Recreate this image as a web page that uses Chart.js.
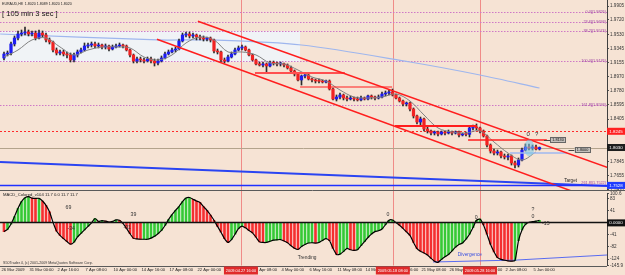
<!DOCTYPE html>
<html><head><meta charset="utf-8">
<script src="https://cdn.jsdelivr.net/npm/chart.js@4.4.1/dist/chart.umd.min.js"></script>
<style>
html,body{margin:0;padding:0;background:#f6e3d4;width:625px;height:275px;overflow:hidden}
#top{position:absolute;left:0;top:0;width:625px;height:190px}
#bot{position:absolute;left:0;top:190px;width:625px;height:85px}
</style></head><body>
<canvas id="top" width="625" height="190"></canvas>
<canvas id="bot" width="625" height="85"></canvas>
<script>
// ---------------- DATA ----------------
const symbolTitle = "EURAUD,H8  1.8020 1.8089 1.8020 1.8020";
const countdownText = "[ 105 min 3 sec ]";
const macdTitle = "MACD_Colored_v104 11.7 0.0 11.7 11.7";
const copyrightText = "S50Trader 4, (c) 2001-2009 MetaQuotes Software Corp.";

const tickBars = [0,8,16,24,32,40,48,56,64,72,80,88,96,104,112,120,128,136,144,152];
const dateTicks = ["26 Mar 2009","31 Mar 00:00","2 Apr 16:00","7 Apr 08:00","10 Apr 00:00","14 Apr 16:00",
  "17 Apr 08:00","22 Apr 00:00","24 Apr 16:00","29 Apr 08:00","4 May 00:00","6 May 16:00","11 May 08:00",
  "14 May 00:00","18 May 16:00","21 May 08:00","26 May 00:00","28 May 16:00","2 Jun 08:00","5 Jun 00:00"];

const openP = [
1.9216,1.9269,1.9282,1.9402,1.9481,1.9534,1.9547,1.9561,1.9534,1.9547,
1.9481,1.9547,1.9521,1.9455,1.9428,1.9322,1.9282,1.9296,1.9269,1.9256,
1.9190,1.9256,1.9296,1.9322,1.9375,1.9388,1.9402,1.9375,1.9388,1.9362,
1.9375,1.9335,1.9362,1.9375,1.9388,1.9375,1.9322,1.9256,1.9176,1.9203,
1.9190,1.9176,1.9203,1.9176,1.9150,1.9176,1.9216,1.9269,1.9296,1.9322,
1.9335,1.9441,1.9521,1.9534,1.9508,1.9521,1.9494,1.9481,1.9468,1.9481,
1.9455,1.9309,1.9296,1.9190,1.9176,1.9229,1.9269,1.9322,1.9349,1.9362,
1.9322,1.9256,1.9190,1.9137,1.9123,1.9137,1.9110,1.9150,1.9150,1.9137,
1.9140,1.9123,1.9084,1.9044,1.9004,1.8925,1.8978,1.8991,1.8938,1.8925,
1.8911,1.8908,1.8898,1.8911,1.8805,1.8673,1.8699,1.8726,1.8686,1.8673,
1.8686,1.8673,1.8660,1.8686,1.8673,1.8713,1.8699,1.8686,1.8699,1.8739,
1.8752,1.8766,1.8726,1.8686,1.8646,1.8607,1.8620,1.8540,1.8448,1.8368,
1.8408,1.8275,1.8249,1.8222,1.8236,1.8209,1.8236,1.8222,1.8236,1.8222,
1.8236,1.8196,1.8209,1.8205,1.8289,1.8302,1.8289,1.8249,1.8183,1.8063,
1.7984,1.7957,1.7971,1.7918,1.7904,1.7918,1.7825,1.7798,1.7865,1.7997,
1.8037,1.8024,1.8037,1.8010];
const highP = [
1.9296,1.9309,1.9428,1.9508,1.9574,1.9587,1.9627,1.9587,1.9574,1.9574,
1.9587,1.9574,1.9547,1.9481,1.9441,1.9349,1.9322,1.9322,1.9296,1.9282,
1.9282,1.9322,1.9349,1.9415,1.9415,1.9428,1.9428,1.9415,1.9402,1.9402,
1.9388,1.9388,1.9402,1.9415,1.9402,1.9388,1.9335,1.9269,1.9229,1.9229,
1.9216,1.9229,1.9229,1.9203,1.9203,1.9243,1.9296,1.9322,1.9349,1.9362,
1.9468,1.9547,1.9561,1.9561,1.9547,1.9534,1.9521,1.9508,1.9494,1.9494,
1.9468,1.9335,1.9309,1.9216,1.9256,1.9296,1.9349,1.9375,1.9388,1.9375,
1.9335,1.9269,1.9203,1.9163,1.9163,1.9150,1.9176,1.9176,1.9163,1.9163,
1.9150,1.9137,1.9110,1.9057,1.9017,1.8991,1.9004,1.9004,1.8951,1.8938,
1.8938,1.8925,1.8925,1.8925,1.8819,1.8726,1.8752,1.8739,1.8713,1.8713,
1.8699,1.8699,1.8713,1.8699,1.8726,1.8726,1.8713,1.8726,1.8766,1.8779,
1.8792,1.8805,1.8739,1.8699,1.8660,1.8633,1.8633,1.8554,1.8461,1.8434,
1.8421,1.8302,1.8262,1.8249,1.8249,1.8249,1.8249,1.8262,1.8249,1.8249,
1.8249,1.8222,1.8236,1.8302,1.8328,1.8342,1.8302,1.8262,1.8196,1.8077,
1.8010,1.7997,1.7984,1.7944,1.7944,1.7931,1.7851,1.7891,1.8024,1.8077,
1.8077,1.8063,1.8063,1.8037];
const lowP = [
1.9190,1.9243,1.9256,1.9375,1.9455,1.9508,1.9521,1.9508,1.9508,1.9455,
1.9468,1.9494,1.9428,1.9402,1.9296,1.9256,1.9256,1.9243,1.9216,1.9163,
1.9163,1.9229,1.9282,1.9309,1.9349,1.9362,1.9349,1.9349,1.9335,1.9335,
1.9309,1.9322,1.9349,1.9362,1.9349,1.9309,1.9229,1.9150,1.9150,1.9163,
1.9150,1.9163,1.9150,1.9110,1.9123,1.9163,1.9203,1.9256,1.9282,1.9296,
1.9322,1.9428,1.9494,1.9481,1.9481,1.9455,1.9455,1.9441,1.9441,1.9428,
1.9282,1.9269,1.9163,1.9150,1.9163,1.9216,1.9256,1.9309,1.9322,1.9309,
1.9243,1.9176,1.9123,1.9110,1.9097,1.9031,1.9097,1.9123,1.9110,1.9110,
1.9097,1.9070,1.9031,1.8978,1.8911,1.8858,1.8951,1.8925,1.8898,1.8885,
1.8885,1.8885,1.8885,1.8792,1.8660,1.8646,1.8673,1.8660,1.8646,1.8660,
1.8646,1.8646,1.8646,1.8660,1.8660,1.8673,1.8660,1.8673,1.8686,1.8713,
1.8726,1.8713,1.8673,1.8633,1.8580,1.8580,1.8514,1.8421,1.8342,1.8328,
1.8249,1.8222,1.8196,1.8196,1.8183,1.8196,1.8196,1.8209,1.8196,1.8209,
1.8169,1.8183,1.8183,1.8169,1.8262,1.8262,1.8222,1.8169,1.8037,1.7957,
1.7931,1.7931,1.7891,1.7878,1.7865,1.7798,1.7759,1.7772,1.7851,1.7984,
1.7997,1.7997,1.7997,1.7997];
const closeP = [
1.9269,1.9282,1.9402,1.9481,1.9534,1.9547,1.9561,1.9534,1.9547,1.9481,
1.9547,1.9521,1.9455,1.9428,1.9322,1.9282,1.9296,1.9269,1.9256,1.9190,
1.9256,1.9296,1.9322,1.9375,1.9388,1.9402,1.9375,1.9388,1.9362,1.9375,
1.9335,1.9362,1.9375,1.9388,1.9375,1.9322,1.9256,1.9176,1.9203,1.9190,
1.9176,1.9203,1.9176,1.9150,1.9176,1.9216,1.9269,1.9296,1.9322,1.9335,
1.9441,1.9521,1.9534,1.9508,1.9521,1.9494,1.9481,1.9468,1.9481,1.9455,
1.9309,1.9296,1.9190,1.9176,1.9229,1.9269,1.9322,1.9349,1.9362,1.9322,
1.9256,1.9190,1.9137,1.9123,1.9137,1.9110,1.9150,1.9147,1.9137,1.9140,
1.9123,1.9084,1.9044,1.9004,1.8925,1.8978,1.8991,1.8938,1.8925,1.8911,
1.8908,1.8898,1.8911,1.8805,1.8673,1.8699,1.8726,1.8686,1.8673,1.8686,
1.8673,1.8660,1.8686,1.8673,1.8713,1.8699,1.8686,1.8699,1.8739,1.8752,
1.8766,1.8726,1.8686,1.8646,1.8607,1.8620,1.8540,1.8448,1.8368,1.8408,
1.8275,1.8249,1.8222,1.8236,1.8209,1.8236,1.8222,1.8236,1.8222,1.8236,
1.8196,1.8209,1.8205,1.8289,1.8302,1.8289,1.8249,1.8183,1.8063,1.7984,
1.7957,1.7971,1.7918,1.7904,1.7918,1.7825,1.7798,1.7865,1.7997,1.8037,
1.8024,1.8037,1.8010,1.8030];

// fast MA (grey) read every 4 bars
const maFastBars = [0,4,8,12,16,20,24,28,32,36,40,44,48,52,56,60,64,68,72,76,80,84,88,92,96,100,104,108,112,116,120,124,128,132,136,140,144,148,152];
const maFast = [1.9229,1.9322,1.9455,1.9481,1.9362,1.9256,1.9322,1.9362,1.9362,1.9349,1.9229,1.9190,1.9256,1.9415,1.9494,1.9455,1.9296,1.9296,1.9256,1.9150,1.9137,1.9057,1.8964,1.8911,1.8792,1.8699,1.8686,1.8699,1.8739,1.8646,1.8461,1.8289,1.8236,1.8222,1.8249,1.8103,1.7957,1.7865,1.7971];
// slow MA (light blue)
const maSlowBars = [-1.1,44,59,85,116,136,153];
const maSlow = [1.9534,1.9455,1.9455,1.9388,1.9163,1.8991,1.8819];

// drawn objects (bar index, price)
const channelUpper = [{x:55.4,y:1.9702},{x:172.3,y:1.7768}];
const channelLower = [{x:43.7,y:1.9464},{x:163.1,y:1.7438}];
const blueTrend = [{x:-1.14,y:1.7838},{x:172.3,y:1.7520}];
const redSeg1 = [{x:71.7,y:1.9017},{x:97.4,y:1.9017}];
const redSeg2 = [{x:84.6,y:1.8832},{x:110.9,y:1.8832}];
const redSeg3 = [{x:111.7,y:1.8315},{x:135.1,y:1.8315}];
const redSeg4 = [{x:132.6,y:1.8130},{x:155.1,y:1.8130}];
const blueSeg = [{x:144.6,y:1.7957},{x:160.9,y:1.7957}];

const fibLevels = [1.9826,1.9693,1.9574,1.9176,1.8593];
const fibTexts = ["0.0](1.9826)","23.6](1.9693)","38.2](1.9574)","100.0](1.9176)","161.8](1.8593)"];
const targetLevel = 1.7528, targetText = "261.8](1.7522)";
const alertLevel = 1.8245, bidLevel = 1.8030;
const zoneBox = {x0:-1.2, x1:84.6, p0:1.9574, p1:1.9163};
const vLineBars = [67.7,111.1,136.0];
const vLineDates = ["2009.04.27 16:00","2009.05.18 08:00","2009.05.28 16:00"];
const priceTicks = [1.9905,1.9720,1.9530,1.9345,1.9155,1.8970,1.8780,1.8595,1.8405,1.8220,1.8030,1.7845,1.7655,1.7470];

const macd = [
-30,-22,-4,22,50,73,86,90,85,84,
84,75,60,38,2,-28,-43,-54,-64,-73,
-66,-48,-36,-24,-12,0,15,5,8,6,
3,5,10,9,-2,-19,-37,-53,-55,-56,
-56,-56,-52,-46,-37,-26,-9,11,28,43,
56,73,85,87,81,75,70,56,43,27,
9,-12,-32,-54,-67,-57,-39,-20,-11,-17,
-26,-34,-49,-65,-67,-67,-63,-59,-58,-57,
-62,-68,-78,-87,-91,-81,-74,-69,-68,-69,
-67,-60,-54,-61,-87,-108,-107,-98,-87,-92,
-94,-92,-78,-64,-50,-38,-30,-27,-21,-6,
9,10,1,-8,-19,-31,-43,-67,-88,-97,
-103,-110,-121,-131,-135,-125,-116,-108,-96,-83,
-74,-69,-56,-39,-16,9,13,-7,-39,-73,
-99,-119,-125,-128,-130,-131,-129,-61,-24,-5,
2,4,6,9];
const macdTicks = [100.6,83,41,0,-41,-82,-124,-145.9];
const macdTickLabels = ["100.6","83","41","","-41","-82","-124","-145.9"];
const divergenceLine = [{x:122.6,y:-134},{x:146.6,y:-127},{x:172.3,y:-110}];
const macdNotes = [
  {t:"69",b:18.4,v:53},{t:"39",b:37,v:29},{t:"-34",b:19.2,v:-18},{t:"-31",b:35.2,v:-15},
  {t:"0",b:109.7,v:28},{t:"0",b:134.9,v:18},{t:"?",b:151.1,v:44},{t:"0",b:151.1,v:20},{t:"-15",b:154.8,v:-4},
  {t:"Trending",b:86.6,v:-118},{t:"Divergence",b:133.1,v:-110}
];
const chartNotes = [{t:"0",b:149.8,p:1.8203},{t:"?",b:152.2,p:1.8203}];
const lineTags = [{t:"1.8130",b:158.3,p:1.8130},{t:"1.8000",b:165.3,p:1.7997}];

// ---------------- STYLE / LAYOUT ----------------
const X_MIN = -1.143, X_MAX = 172.29;
const FONT = "'Liberation Sans', Arial, sans-serif";
Chart.defaults.font.family = FONT;
Chart.defaults.color = '#222';
const UP = '#1d1df2', DN = '#f02222';

function hLine(ctx, x0, x1, y, color, w, dash){
  ctx.save(); ctx.strokeStyle=color; ctx.lineWidth=w; ctx.setLineDash(dash||[]);
  const yy = Math.round(y)+0.5;
  ctx.beginPath(); ctx.moveTo(x0,yy); ctx.lineTo(x1,yy); ctx.stroke(); ctx.restore();
}
function vLine(ctx, x, y0, y1, color, w, dash){
  ctx.save(); ctx.strokeStyle=color; ctx.lineWidth=w; ctx.setLineDash(dash||[]);
  const xx = Math.round(x)+0.5;
  ctx.beginPath(); ctx.moveTo(xx,y0); ctx.lineTo(xx,y1); ctx.stroke(); ctx.restore();
}
function txt(ctx, s, x, y, size, color, align, bold){
  ctx.save(); ctx.font=(bold?'bold ':'')+size+'px '+FONT; ctx.fillStyle=color;
  ctx.textAlign=align||'left'; ctx.textBaseline='middle'; ctx.fillText(s,x,y); ctx.restore();
}
function box(ctx, x, yc, w, h, bg, fg, s, size, border){
  ctx.save(); ctx.fillStyle=bg; ctx.fillRect(x, yc-h/2, w, h);
  if(border){ctx.strokeStyle=border; ctx.lineWidth=1; ctx.strokeRect(Math.round(x)+0.5, Math.round(yc-h/2)+0.5, w-1, h-1);}
  ctx.restore(); txt(ctx, s, x+w/2, yc+0.3, size, fg, 'center');
}

const topOverlay = {
  id:'topOverlay',
  beforeDatasetsDraw(chart){
    const {ctx, chartArea:a, scales:{x,y}} = chart;
    ctx.save(); ctx.beginPath(); ctx.rect(a.left,a.top,a.right-a.left,a.bottom-a.top); ctx.clip();
    ctx.fillStyle='rgba(238,246,252,0.85)';
    const zx0=x.getPixelForValue(zoneBox.x0), zx1=x.getPixelForValue(zoneBox.x1);
    const zy0=y.getPixelForValue(zoneBox.p0), zy1=y.getPixelForValue(zoneBox.p1);
    ctx.fillRect(zx0, zy0, zx1-zx0, zy1-zy0);
    vLineBars.forEach(b=>vLine(ctx, x.getPixelForValue(b), a.top, a.bottom, 'rgba(238,110,110,0.75)', 1));
    fibLevels.forEach(p=>hLine(ctx, a.left, a.right, y.getPixelForValue(p), '#cf78c6', 1, [1.5,1.5]));
    hLine(ctx, a.left, a.right, y.getPixelForValue(alertLevel), '#ff2a2a', 1, [2,2]);
    hLine(ctx, a.left, a.right, y.getPixelForValue(bidLevel), '#b3a38c', 1);
    ctx.restore();
  },
  afterDatasetsDraw(chart){
    const {ctx, chartArea:a, scales:{x,y}} = chart;
    hLine(ctx, a.left, a.right, y.getPixelForValue(targetLevel), '#2030ff', 1.3);
    ctx.save(); ctx.fillStyle='rgba(120,200,232,0.55)';
    ctx.beginPath(); ctx.ellipse(x.getPixelForValue(150.1), y.getPixelForValue(1.8022), 5, 8.5, 0, 0, Math.PI*2); ctx.fill(); ctx.restore();
    chartNotes.forEach(n=>txt(ctx, n.t, x.getPixelForValue(n.b), y.getPixelForValue(n.p), 6, '#333', 'center'));
    lineTags.forEach(n=>{
      const px=x.getPixelForValue(n.b), py=y.getPixelForValue(n.p);
      hLine(ctx, px-14, px-8, py, '#444', 1);
      box(ctx, px-8, py, 16, 6, '#c4c0bc', '#111', n.t, 3.8, '#666');
    });
    fibLevels.forEach((p,i)=>txt(ctx, fibTexts[i], a.right-1, y.getPixelForValue(p), 3.8, '#9a3ea0', 'right'));
    txt(ctx, 'Target', 577, y.getPixelForValue(targetLevel)-4.5, 4.6, '#222', 'right');
    txt(ctx, targetText, a.right-1, y.getPixelForValue(targetLevel)-2.5, 3.8, '#9a3ea0', 'right');
  },
  afterDraw(chart){
    const {ctx, chartArea:a, scales:{y}} = chart;
    box(ctx, a.right, y.getPixelForValue(alertLevel), 18, 7, '#ff2020', '#fff', alertLevel.toFixed(4), 4.4);
    box(ctx, a.right, y.getPixelForValue(bidLevel), 18, 7, '#1e1e1e', '#fff', bidLevel.toFixed(4), 4.4);
    box(ctx, a.right, y.getPixelForValue(targetLevel), 18, 7, '#1f3cff', '#fff', targetLevel.toFixed(4), 4.4);
    txt(ctx, symbolTitle, 2, 3.5, 3.6, '#222', 'left');
    txt(ctx, countdownText, 2, 13.5, 7.6, '#111', 'left');
  }
};

const topData = {
  datasets:[
    {type:'line', data: maSlowBars.map((b,i)=>({x:b,y:maSlow[i]})), borderColor:'#9eb6ee', borderWidth:1.2, pointRadius:0, tension:0.3, order:7},
    {type:'bar', data: highP.map((h,i)=>({x:i,y:[lowP[i],h]})), backgroundColor:'#2b2b2b', barThickness:1, grouped:false, order:6},
    {type:'bar', data: closeP.map((c,i)=>({x:i,y:[openP[i],c]})), backgroundColor: closeP.map((c,i)=>c>=openP[i]?UP:DN), barThickness:2.6, minBarLength:1, grouped:false, order:5},
    {type:'line', data: maFastBars.map((b,i)=>({x:b,y:maFast[i]})), borderColor:'#808080', borderWidth:1, pointRadius:0, tension:0.35, order:4},
    {type:'line', data: blueTrend, borderColor:'#2a44f2', borderWidth:1.8, pointRadius:0, order:3},
    {type:'line', data: channelUpper, borderColor:'#ff1e1e', borderWidth:1.5, pointRadius:0, order:1},
    {type:'line', data: channelLower, borderColor:'#ff1e1e', borderWidth:1.5, pointRadius:0, order:1},
    {type:'line', data: redSeg1, borderColor:'#ff5050', borderWidth:1.8, pointRadius:0, order:1},
    {type:'line', data: redSeg2, borderColor:'#ff1e1e', borderWidth:1.2, pointRadius:0, order:1},
    {type:'line', data: redSeg3, borderColor:'#ff1e1e', borderWidth:2, pointRadius:0, order:1},
    {type:'line', data: redSeg4, borderColor:'#ff1e1e', borderWidth:1.5, pointRadius:0, order:1},
    {type:'line', data: blueSeg, borderColor:'#9fb8f0', borderWidth:1.5, pointRadius:0, order:1}
  ]
};

new Chart(document.getElementById('top'), {
  type:'bar', data: topData,
  options:{
    responsive:false, animation:false, events:[],
    layout:{padding:0, autoPadding:false},
    plugins:{legend:{display:false}, tooltip:{enabled:false}},
    scales:{
      x:{type:'linear', min:X_MIN, max:X_MAX, display:false, offset:false},
      y:{type:'linear', position:'right', min:1.74670, max:1.99845,
         afterBuildTicks:s=>{s.ticks=priceTicks.map(v=>({value:v}));},
         afterFit:s=>{s.width=18; s.paddingTop=0; s.paddingBottom=0;},
         ticks:{callback:v=>Number(v).toFixed(4), font:{size:4.6}, padding:1, color:'#333', autoSkip:false},
         grid:{drawOnChartArea:false, tickLength:2, color:'#555'},
         border:{display:true, color:'#404040'}}
    }
  },
  plugins:[topOverlay]
});

// ---------------- MACD ----------------
const botOverlay = {
  id:'botOverlay',
  beforeDatasetsDraw(chart){
    const {ctx, chartArea:a, scales:{x}} = chart;
    vLineBars.forEach(b=>vLine(ctx, x.getPixelForValue(b), 0, a.bottom, 'rgba(238,110,110,0.75)', 1));
  },
  afterDatasetsDraw(chart){
    const {ctx, chartArea:a, scales:{x,y}} = chart;
    hLine(ctx, a.left, a.right, y.getPixelForValue(0)-0.5, '#111', 1.6);
    macdNotes.forEach(n=>{
      const big = n.t.length<=3;
      const col = n.t==='Divergence' ? '#3a50e0' : '#333';
      txt(ctx, n.t, x.getPixelForValue(n.b), y.getPixelForValue(n.v), big?5.2:4.8, col, 'center');
    });
  },
  afterDraw(chart){
    const {ctx, chartArea:a, scales:{x,y}} = chart;
    hLine(ctx, 0, 625, 0, '#5a5a5a', 1);
    hLine(ctx, 0, a.right, a.bottom, '#5a5a5a', 1);
    box(ctx, a.right, y.getPixelForValue(0), 18, 7, '#111', '#fff', '0.0000', 4.4);
    vLineBars.forEach((b,i)=>{
      const px = x.getPixelForValue(b);
      box(ctx, px-17, a.bottom+5, 34, 8, '#e02a2a', '#fff', vLineDates[i], 3.9);
    });
    txt(ctx, macdTitle, 3, 5, 4.2, '#222', 'left');
    txt(ctx, copyrightText, 3, a.bottom-2.5, 3.6, '#333', 'left');
  }
};

new Chart(document.getElementById('bot'), {
  type:'bar',
  data:{datasets:[
    {type:'line', data: macd.map((v,i)=>({x:i,y:v})), borderColor:'#000', borderWidth:1.2, pointRadius:0, tension:0.2, order:0},
    {type:'line', data: divergenceLine, borderColor:'#5a6cf0', borderWidth:1.2, pointRadius:0, order:0},
    {type:'bar', data: macd.map((v,i)=>({x:i,y:v})), backgroundColor: macd.map((v,i)=> (i>0 && v>=macd[i-1]) ? '#36c936' : '#f43030'), barThickness:2, grouped:false, order:1},
    {type:'line', data: macd.map((v,i)=>({x:i,y:v})), borderWidth:0, pointRadius:0, fill:'origin', backgroundColor:'rgba(255,255,255,0.8)', tension:0.2, order:2}
  ]},
  options:{
    responsive:false, animation:false, events:[],
    layout:{padding:{top:3.5,left:0,right:0,bottom:0}, autoPadding:false},
    plugins:{legend:{display:false}, tooltip:{enabled:false}},
    scales:{
      x:{type:'linear', min:X_MIN, max:X_MAX, offset:false,
         afterBuildTicks:s=>{s.ticks=tickBars.map(v=>({value:v}));},
         afterFit:s=>{s.height=9.5; s.paddingLeft=0; s.paddingRight=0;},
         ticks:{callback:(v,i)=>dateTicks[i], autoSkip:false, maxRotation:0, minRotation:0, align:'start', labelOffset:-2.5, padding:2, font:{size:4.1}, color:'#222'},
         grid:{display:false, drawTicks:false, tickLength:0}, border:{display:false}},
      y:{type:'linear', position:'right', min:-145.9, max:100.6,
         afterBuildTicks:s=>{s.ticks=macdTicks.map(v=>({value:v}));},
         afterFit:s=>{s.width=18; s.paddingTop=0; s.paddingBottom=0;},
         ticks:{callback:(v,i)=>macdTickLabels[i], font:{size:4.6}, padding:1, color:'#333', autoSkip:false},
         grid:{drawOnChartArea:false, tickLength:2, color:'#555'},
         border:{display:true, color:'#404040'}}
    }
  },
  plugins:[botOverlay]
});
</script>
</body></html>
